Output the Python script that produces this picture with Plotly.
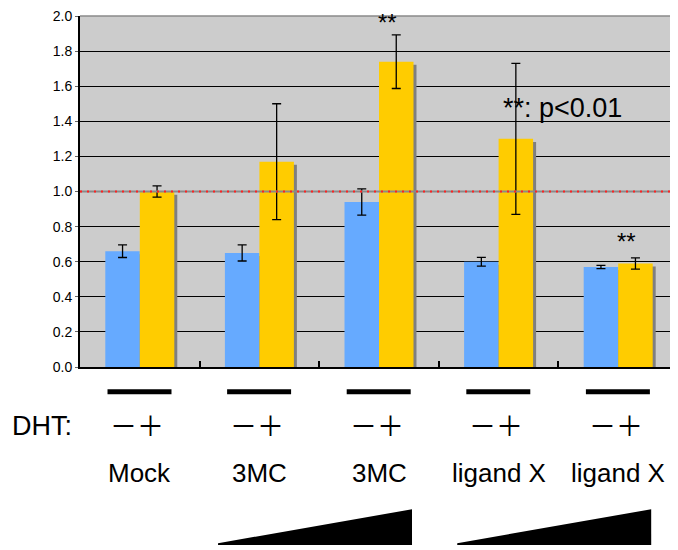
import plotly.graph_objects as go

# ---- data ----
groups = ["Mock", "3MC", "3MC", "ligand X", "ligand X"]
minus_vals = [0.66, 0.65, 0.94, 0.60, 0.57]
minus_err = [0.036, 0.046, 0.075, 0.025, 0.009]
plus_vals = [1.00, 1.17, 1.74, 1.30, 0.59]
plus_err = [0.032, 0.33, 0.153, 0.43, 0.032]
signif = ["", "", "**", "", "**"]
ytick_vals = [0.0, 0.2, 0.4, 0.6, 0.8, 1.0, 1.2, 1.4, 1.6, 1.8, 2.0]
dht_label = "\uff0d\uff0b"
ref_level = 1.0

FONT = "Liberation Sans, Arial, Helvetica, sans-serif"
BLUE = "#66AAFF"
YELLOW = "#FFCC00"
SHADOW = "#7F7F7F"

x = list(range(len(groups)))
W = 0.2885          # bar width (category units)
SX = 0.025          # shadow x offset
SY = 0.018          # shadow y offset

fig = go.Figure()
# shadows
fig.add_trace(go.Bar(x=x, y=[v - SY for v in minus_vals], width=W, offset=-W + SX,
                     marker=dict(color=SHADOW, line=dict(width=0)), hoverinfo="skip", showlegend=False))
fig.add_trace(go.Bar(x=x, y=minus_vals, width=W, offset=-W,
                     marker=dict(color=BLUE, line=dict(width=0)),
                     error_y=dict(type="data", array=minus_err, color="black", thickness=1.3, width=4.5),
                     showlegend=False))
fig.add_trace(go.Bar(x=x, y=[v - SY for v in plus_vals], width=W, offset=SX,
                     marker=dict(color=SHADOW, line=dict(width=0)), hoverinfo="skip", showlegend=False))
fig.add_trace(go.Bar(x=x, y=plus_vals, width=W, offset=0,
                     marker=dict(color=YELLOW, line=dict(width=0)),
                     error_y=dict(type="data", array=plus_err, color="black", thickness=1.3, width=4.5),
                     showlegend=False))

shapes = []
# reference line at 1.0
shapes.append(dict(type="line", xref="paper", yref="y", x0=0, x1=1, y0=ref_level, y1=ref_level,
                   line=dict(color="#8a8a8a", width=2), layer="above"))
shapes.append(dict(type="line", xref="paper", yref="y", x0=0, x1=1, y0=ref_level, y1=ref_level,
                   line=dict(color="#FF2020", width=2, dash="2px,5px"), layer="above"))
# top border
shapes.append(dict(type="line", xref="paper", yref="paper", x0=0, x1=1, y0=1, y1=1,
                   line=dict(color="#8a8a8a", width=1.5), layer="above"))

annotations = []
# significance marks (pixel gap above the error bar top)
sig_gap = {2: 9, 4: 13}
for i, s in enumerate(signif):
    if s:
        top = plus_vals[i] + plus_err[i]
        annotations.append(dict(x=i + 0.07, y=top, xref="x", yref="y", text=s, showarrow=False,
                                yanchor="bottom", yshift=sig_gap.get(i, 0) - 12,
                                font=dict(family=FONT, size=24, color="black")))
annotations.append(dict(x=3.02, y=1.477, xref="x", yref="y", text="**: p<0.01", showarrow=False,
                        xanchor="left", yanchor="middle", font=dict(family=FONT, size=27, color="black")))

# below-axis decorations
for i, g in enumerate(groups):
    shapes.append(dict(type="line", xref="x", yref="paper", x0=i - 0.27, x1=i + 0.265,
                       y0=-0.0705, y1=-0.0705, line=dict(color="black", width=5)))
    annotations.append(dict(x=i - 0.02, y=-0.165, xref="x", yref="paper", text=dht_label, showarrow=False,
                            xanchor="center", yanchor="middle",
                            font=dict(family="Noto Sans CJK JP", size=27, color="black")))
    annotations.append(dict(x=i, y=-0.302, xref="x", yref="paper", text=g, showarrow=False,
                            xanchor="center", yanchor="middle",
                            font=dict(family=FONT, size=26, color="black")))
annotations.append(dict(x=-0.117, y=-0.168, xref="paper", yref="paper", text="DHT:", showarrow=False,
                        xanchor="left", yanchor="middle", font=dict(family=FONT, size=27, color="black")))

# dose triangles
for a, b in [(1, 2), (3, 4)]:
    x0 = a - 0.346
    x1 = b + 0.276
    shapes.append(dict(type="path", xref="x", yref="paper",
                       path=f"M {x0},-0.502 L {x1},-0.405 L {x1},-0.507 L {x0},-0.507 Z",
                       fillcolor="black", line=dict(color="black", width=0)))

# page body has an 8px default margin; size the figure so the plot area lands where intended
fig.update_layout(
    width=670, height=542,
    margin=dict(l=72, r=0, t=8, b=183),
    paper_bgcolor="white", plot_bgcolor="#CCCCCC",
    barmode="overlay",
    xaxis=dict(range=[-0.5, 4.5], showgrid=False, zeroline=False, showline=True, linecolor="black",
               linewidth=2, ticks="inside", ticklen=6, tickcolor="black", tickwidth=1.5,
               tickvals=[0.5, 1.5, 2.5, 3.5], ticktext=["", "", "", ""], fixedrange=True),
    yaxis=dict(range=[0, 2.0], tickvals=ytick_vals, tickformat=".1f", showgrid=True, gridcolor="black",
               gridwidth=1, zeroline=False, showline=True, linecolor="black", linewidth=2,
               ticks="outside", ticklen=3, tickcolor="#666666", ticklabeloverflow="allow",
               tickfont=dict(family=FONT, size=14, color="black"), fixedrange=True),
    shapes=shapes, annotations=annotations,
    showlegend=False,
)

fig.write_html("out.html")
